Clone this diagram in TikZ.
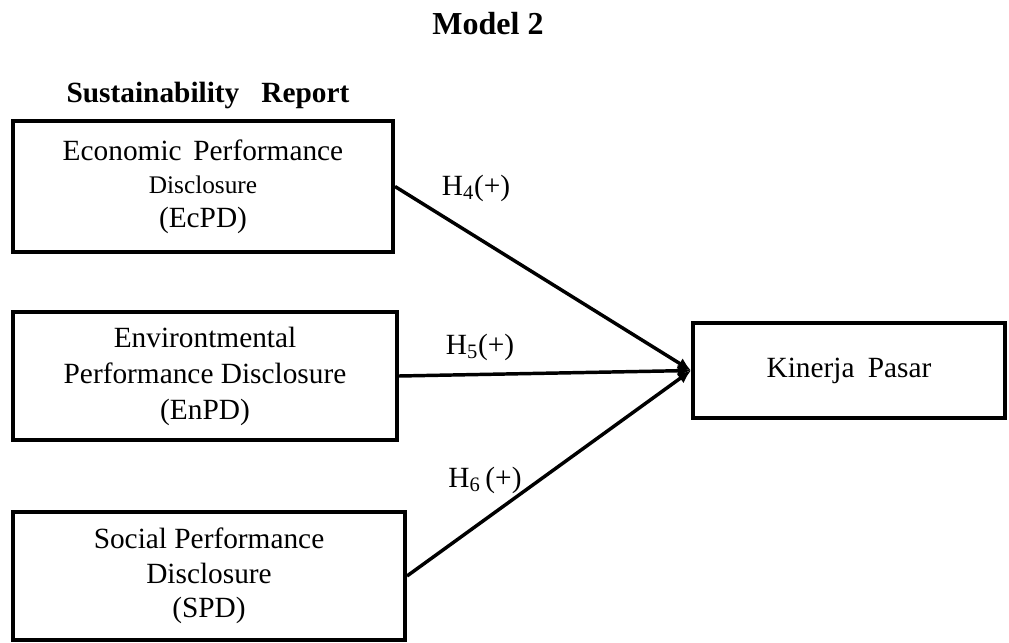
\documentclass[tikz,border=0pt]{standalone}
\usepackage{fontspec}
\setmainfont{Liberation Serif}
\usetikzlibrary{arrows.meta}
\begin{document}
\begin{tikzpicture}[x=0.75pt,y=-0.75pt,
	box/.style={draw,line width=3pt,align=center,inner sep=0pt,font=\fontsize{22}{25}\selectfont},
	hyp/.style={anchor=base,font=\fontsize{22}{25}\selectfont},
	link/.style={line width=2.6pt,-{Latex[length=10pt,width=9pt]}}]
	\useasboundingbox (0,0) rectangle (1009,642);
	\node[anchor=base,font=\bfseries\fontsize{24}{28}\selectfont] (title) at (488,35) {Model 2};
	\node[anchor=base,font=\bfseries\fontsize{22}{26}\selectfont] (sr) at (208,103) {Sustainability\hspace{0.5em} Report};
	\node[box,minimum width=285pt,minimum height=98pt] (ec) at (203,186.5)
		{Economic\hspace{0.15em} Performance\\{\fontsize{19}{25}\selectfont Disclosure}\\(EcPD)};
	\node[box,minimum width=288pt,minimum height=96pt,font=\fontsize{22}{27}\selectfont] (en) at (205,376)
		{Environtmental\\Performance Disclosure\\(EnPD)};
	\node[box,minimum width=294pt,minimum height=96pt,font=\fontsize{22}{26}\selectfont] (so) at (209,576)
		{Social Performance\\Disclosure\\(SPD)};
	\node[box,minimum width=234pt,minimum height=71pt] (kp) at (849,370.5) {Kinerja\hspace{0.2em} Pasar};
	\draw[link] (ec.east) -- (kp.west);
	\draw[link] (en.east) -- (kp.west);
	\draw[link] (so.east) -- (kp.west);
	\node[hyp] (h4) at (476,195) {H\textsubscript{4}(+)};
	\node[hyp] (h5) at (480,354) {H\textsubscript{5}(+)};
	\node[hyp] (h6) at (485,487) {H\textsubscript{6}\,(+)};
\end{tikzpicture}
\end{document}
